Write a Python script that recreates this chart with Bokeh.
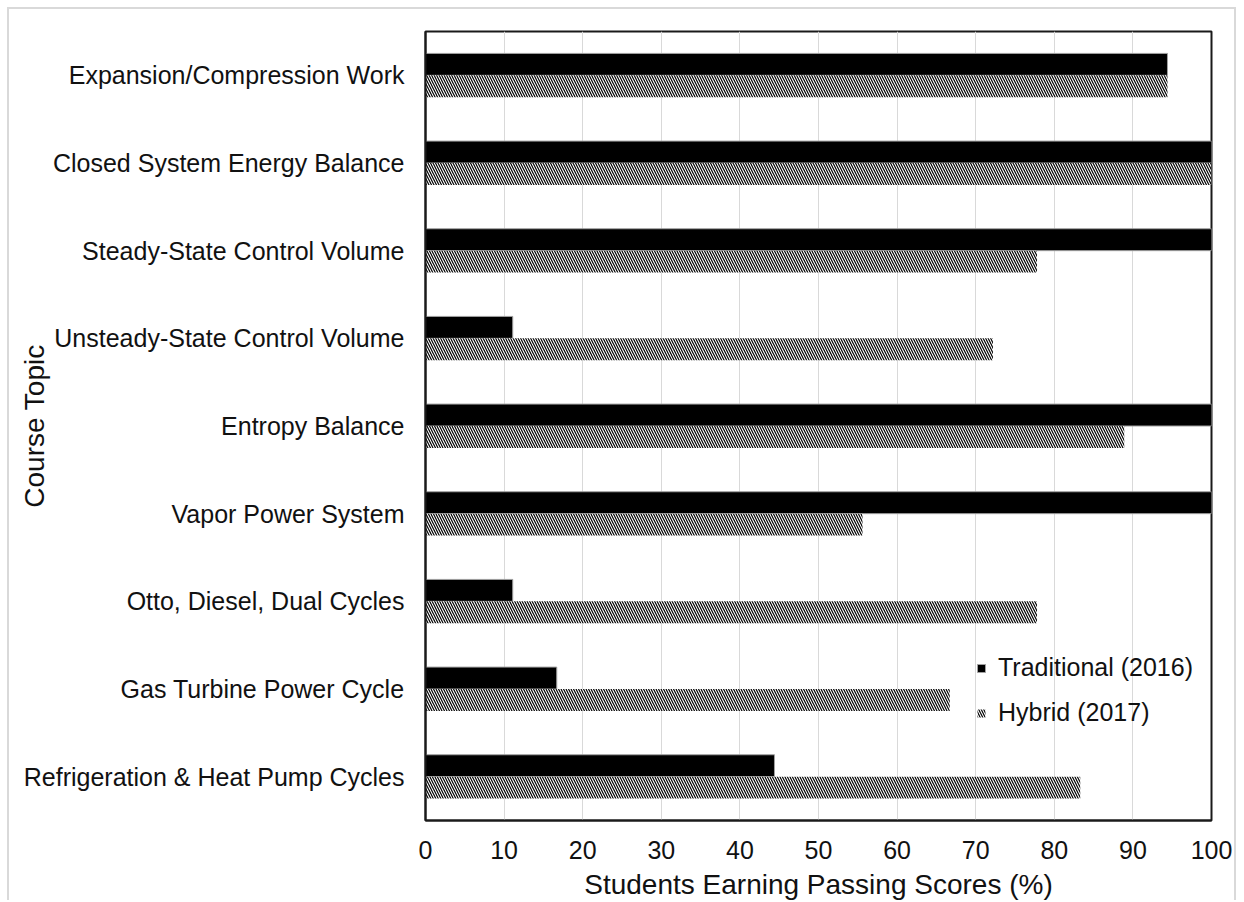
from bokeh.plotting import figure
from bokeh.models import ColumnDataSource, FactorRange, Legend, LegendItem
from bokeh.transform import dodge
from bokeh.embed import file_html
from bokeh.resources import INLINE

topics = [
    "Expansion/Compression Work",
    "Closed System Energy Balance",
    "Steady-State Control Volume",
    "Unsteady-State Control Volume",
    "Entropy Balance",
    "Vapor Power System",
    "Otto, Diesel, Dual Cycles",
    "Gas Turbine Power Cycle",
    "Refrigeration & Heat Pump Cycles",
]
traditional_2016 = [94.4, 100, 100, 11.1, 100, 100, 11.1, 16.7, 44.4]
hybrid_2017 = [94.4, 100, 77.8, 72.2, 88.9, 55.6, 77.8, 66.7, 83.3]
x_ticks = [0, 10, 20, 30, 40, 50, 60, 70, 80, 90, 100]

FONT = "Liberation Sans"

src = ColumnDataSource(dict(topic=topics, trad=traditional_2016, hyb=hybrid_2017))

ML, MR, MT, MB = 416, 27, 22, 82
FW, FH = 786, 789

p = figure(
    width=ML + FW + MR, height=MT + FH + MB,
    y_range=FactorRange(factors=list(reversed(topics)), range_padding=0),
    x_range=(0, 100),
    output_backend="svg", toolbar_location=None,
    min_border_left=ML, min_border_right=MR, min_border_top=MT, min_border_bottom=MB,
)
p.styles = {"margin-left": "7px", "margin-top": "7px",
            "border-left": "2px solid #d9d9d9", "border-top": "2px solid #d9d9d9",
            "border-right": "2px solid #d9d9d9"}

r1 = p.hbar(y=dodge("topic", 0.125, range=p.y_range), right="trad", left=0, height=0.25,
            source=src, fill_color="black", line_color="#a0a0a0", line_width=1)
r2 = p.hbar(y=dodge("topic", -0.125, range=p.y_range), right="hyb", left=0, height=0.25,
            source=src, fill_color="white", line_color=None,
            hatch_pattern="\\", hatch_color="black", hatch_scale=5, hatch_weight=1.2)

p.outline_line_color = "#1a1a1a"
p.outline_line_width = 2

p.xgrid.grid_line_color = "#d9d9d9"
p.xgrid.grid_line_width = 1
p.ygrid.grid_line_color = None

p.xaxis.ticker = x_ticks
p.xaxis.axis_label = "Students Earning Passing Scores (%)"
p.yaxis.axis_label = "Course Topic"
for ax in (p.xaxis, p.yaxis):
    ax.axis_label_text_font = FONT
    ax.axis_label_text_font_size = "28px"
    ax.axis_label_text_font_style = "normal"
    ax.axis_label_text_color = "#111111"
    ax.major_label_text_font = FONT
    ax.major_label_text_font_size = "25px"
    ax.major_label_text_color = "#111111"
    ax.major_tick_line_color = None
    ax.minor_tick_line_color = None
    ax.axis_line_color = "#1a1a1a"
    ax.axis_line_width = 2
p.xaxis.major_label_standoff = 14
p.xaxis.axis_label_standoff = 7
p.yaxis.major_label_standoff = 15
p.yaxis.axis_label_standoff = -29

legend = Legend(items=[
    LegendItem(label="Traditional (2016)", renderers=[r1]),
    LegendItem(label="Hybrid (2017)", renderers=[r2]),
], location=(551, 93))
legend.background_fill_alpha = 0
legend.border_line_color = None
legend.label_text_font = FONT
legend.label_text_font_size = "25px"
legend.label_text_color = "#111111"
legend.glyph_width = 10
legend.glyph_height = 10
legend.spacing = 16
legend.label_standoff = 12
p.add_layout(legend, "center")

open("out.html", "w").write(file_html(p, INLINE))
